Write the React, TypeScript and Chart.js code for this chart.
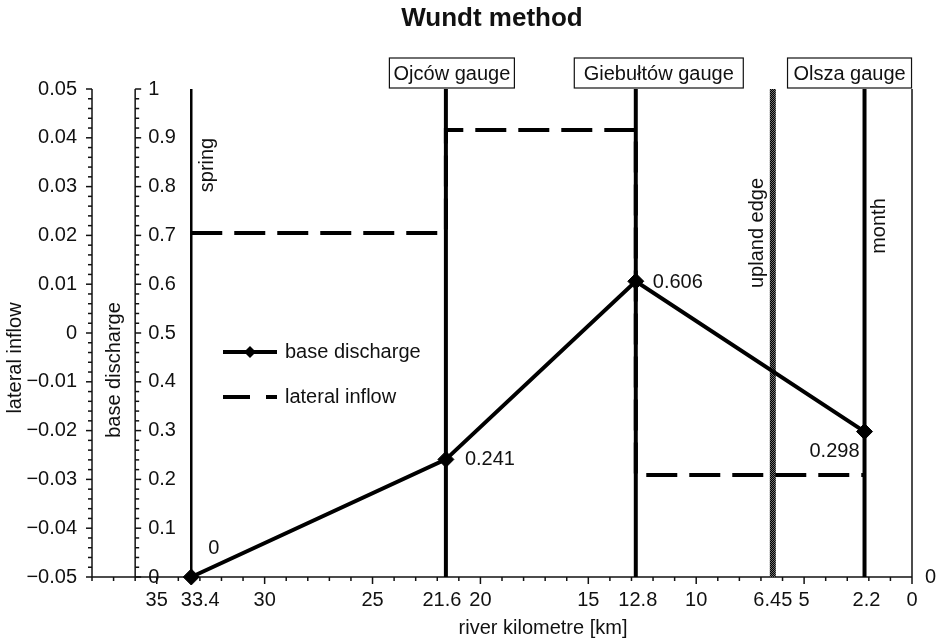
import React, { useEffect, useRef } from "react";
import { Chart, registerables } from "chart.js";

Chart.register(...registerables);

// ---------- data ----------
const chartTitle = "Wundt method";
const xAxisTitle = "river kilometre [km]";
const lateralAxisTitle = "lateral inflow";
const baseAxisTitle = "base discharge";

const riverKm = [33.4, 21.6, 12.8, 2.2];
const baseDischarge = [0, 0.241, 0.606, 0.298];
const baseDischargeLabels = ["0", "0.241", "0.606", "0.298"];
const lateralInflow = [0.0205, 0.0416, -0.0291, -0.0291];

const markerLineKm = [33.4, 21.6, 12.8, 6.45, 2.2];
const gaugeKm = [21.6, 12.8, 2.2];
const gaugeNames = ["Ojców gauge", "Giebułtów gauge", "Olsza gauge"];
const siteKm = [33.4, 6.45, 2.2];
const siteNames = ["spring", "upland edge", "month"];

const xTickValues = [35, 33.4, 30, 25, 21.6, 20, 15, 12.8, 10, 6.45, 5, 2.2, 0];
const xTickLabels = ["35", "33.4", "30", "25", "21.6", "20", "15", "12.8", "10", "6.45", "5", "2.2", "0"];
const lateralTickValues = [0.05, 0.04, 0.03, 0.02, 0.01, 0, -0.01, -0.02, -0.03, -0.04, -0.05];
const lateralTickLabels = ["0.05", "0.04", "0.03", "0.02", "0.01", "0", "\u22120.01", "\u22120.02", "\u22120.03", "\u22120.04", "\u22120.05"];
const baseTickValues = [1, 0.9, 0.8, 0.7, 0.6, 0.5, 0.4, 0.3, 0.2, 0.1, 0];
const baseTickLabels = ["1", "0.9", "0.8", "0.7", "0.6", "0.5", "0.4", "0.3", "0.2", "0.1", "0"];
const rightAxisLabel = "0";

// ---------- scale ranges ----------
const X_MIN = 0;
const X_MAX = 38;
const BASE_AXIS_KM = 36;
const LAT_MIN = -0.05;
const LAT_MAX = 0.05;
const BASE_MIN = 0;
const BASE_MAX = 1;

// ---------- styles ----------
const FONT_FAMILY = '"Liberation Sans", Arial, Helvetica, sans-serif';
const FS = 20;
const markerLineWidths = [2.5, 4, 4, 6, 4];
const xTickLabelDx = [0, 9, 0, 0, -4, 0, 0, 2, 0, 0, 0, 2, 0];
const gaugeBoxStyle = [
  { dx: 6, w: 125 },
  { dx: 23, w: 169 },
  { dx: -15, w: 124 },
];
const siteLabelStyle = [
  { dx: 16, y: 165 },
  { dx: -15, y: 233 },
  { dx: 15, y: 226 },
];
const dataLabelStyle = [
  { dx: 17, dy: -29, align: "left" },
  { dx: 19, dy: 0, align: "left" },
  { dx: 17, dy: 1, align: "left" },
  { dx: -5, dy: 20, align: "right" },
];

function setFont(ctx: CanvasRenderingContext2D, size: number, bold = false) {
  ctx.font = `${bold ? "bold " : ""}${size}px ${FONT_FAMILY}`;
}
function seg(ctx: CanvasRenderingContext2D, x1: number, y1: number, x2: number, y2: number) {
  ctx.beginPath();
  ctx.moveTo(x1, y1);
  ctx.lineTo(x2, y2);
  ctx.stroke();
}
function vtext(ctx: CanvasRenderingContext2D, text: string, x: number, y: number) {
  ctx.save();
  ctx.translate(x, y);
  ctx.rotate(-Math.PI / 2);
  ctx.textAlign = "center";
  ctx.textBaseline = "middle";
  ctx.fillText(text, 0, 0);
  ctx.restore();
}

const decorPlugin = {
  id: "decor",
  beforeDatasetsDraw(chart: any) {
    const { ctx, chartArea: a } = chart;
    const sx = chart.scales.x;
    const yL = chart.scales.yL;
    const yB = chart.scales.yB;
    ctx.save();
    ctx.strokeStyle = "#111";
    ctx.lineWidth = 1.5;
    ctx.setLineDash([]);
    // x axis
    seg(ctx, a.left, a.bottom, a.right, a.bottom);
    for (let k = X_MIN; k <= X_MAX; k += 1) {
      const px = sx.getPixelForValue(k);
      seg(ctx, px, a.bottom, px, a.bottom + (k % 5 === 0 ? 7 : 4));
    }
    // right border
    seg(ctx, a.right, a.top, a.right, a.bottom);
    // lateral inflow axis
    const lx = sx.getPixelForValue(X_MAX);
    seg(ctx, lx, a.top, lx, a.bottom);
    for (let i = 0; i <= 50; i++) {
      const v = LAT_MIN + (i * (LAT_MAX - LAT_MIN)) / 50;
      const py = yL.getPixelForValue(v);
      seg(ctx, lx, py, lx - (i % 5 === 0 ? 6 : 4), py);
    }
    // base discharge axis
    const bx = sx.getPixelForValue(BASE_AXIS_KM);
    seg(ctx, bx, a.top, bx, a.bottom);
    for (let i = 0; i <= 50; i++) {
      const v = BASE_MIN + (i * (BASE_MAX - BASE_MIN)) / 50;
      const py = yB.getPixelForValue(v);
      seg(ctx, bx, py, bx + (i % 5 === 0 ? 6 : 4), py);
    }
    ctx.restore();
  },
  afterDraw(chart: any) {
    const { ctx, chartArea: a } = chart;
    const sx = chart.scales.x;
    const yL = chart.scales.yL;
    const yB = chart.scales.yB;
    ctx.save();
    ctx.fillStyle = "#111";
    ctx.strokeStyle = "#111";
    ctx.setLineDash([]);

    // title
    setFont(ctx, 26, true);
    ctx.textAlign = "center";
    ctx.textBaseline = "middle";
    ctx.fillText(chartTitle, (a.left + a.right) / 2 - 10, 19);

    setFont(ctx, FS);
    // x tick labels
    ctx.textAlign = "center";
    ctx.textBaseline = "middle";
    xTickValues.forEach((v, i) => {
      ctx.fillText(xTickLabels[i], sx.getPixelForValue(v) + xTickLabelDx[i], a.bottom + 23);
    });
    // x title
    ctx.fillText(xAxisTitle, (a.left + a.right) / 2 + 41, a.bottom + 51);

    // lateral tick labels
    const lx = sx.getPixelForValue(X_MAX);
    ctx.textAlign = "right";
    lateralTickValues.forEach((v, i) => {
      ctx.fillText(lateralTickLabels[i], lx - 15, yL.getPixelForValue(v));
    });
    // base tick labels
    const bx = sx.getPixelForValue(BASE_AXIS_KM);
    ctx.textAlign = "left";
    baseTickValues.forEach((v, i) => {
      ctx.fillText(baseTickLabels[i], bx + 13, yB.getPixelForValue(v));
    });
    // right axis label
    ctx.fillText(rightAxisLabel, a.right + 13, yB.getPixelForValue(BASE_MIN));

    // axis titles
    vtext(ctx, lateralAxisTitle, lx - 77, (a.top + a.bottom) / 2 + 25);
    vtext(ctx, baseAxisTitle, bx - 21, (a.top + a.bottom) / 2 + 37);

    // gauge boxes
    gaugeKm.forEach((km, i) => {
      const cx = sx.getPixelForValue(km) + gaugeBoxStyle[i].dx;
      const w = gaugeBoxStyle[i].w;
      const top = a.top - 31;
      const h = 30;
      ctx.fillStyle = "#fff";
      ctx.fillRect(cx - w / 2, top, w, h);
      ctx.lineWidth = 1.2;
      ctx.strokeRect(cx - w / 2, top, w, h);
      ctx.fillStyle = "#111";
      ctx.textAlign = "center";
      ctx.textBaseline = "middle";
      ctx.fillText(gaugeNames[i], cx, top + h / 2 + 1);
    });

    // site labels (vertical)
    siteKm.forEach((km, i) => {
      vtext(ctx, siteNames[i], sx.getPixelForValue(km) + siteLabelStyle[i].dx, siteLabelStyle[i].y);
    });

    // data labels
    const meta = chart.getDatasetMeta(0);
    meta.data.forEach((pt: any, i: number) => {
      const st = dataLabelStyle[i];
      ctx.textAlign = st.align;
      ctx.textBaseline = "middle";
      ctx.fillText(baseDischargeLabels[i], pt.x + st.dx, pt.y + st.dy);
    });

    // legend
    const lgX0 = 223;
    const lgX1 = 277;
    const lgY = [352, 397];
    ctx.lineWidth = 4;
    ctx.strokeStyle = "#000";
    seg(ctx, lgX0, lgY[0], lgX1, lgY[0]);
    ctx.fillStyle = "#000";
    const mx = (lgX0 + lgX1) / 2;
    ctx.beginPath();
    ctx.moveTo(mx - 6, lgY[0]);
    ctx.lineTo(mx, lgY[0] - 6);
    ctx.lineTo(mx + 6, lgY[0]);
    ctx.lineTo(mx, lgY[0] + 6);
    ctx.closePath();
    ctx.fill();
    ctx.setLineDash([27, 16]);
    seg(ctx, lgX0, lgY[1], lgX1, lgY[1]);
    ctx.setLineDash([]);
    ctx.fillStyle = "#111";
    ctx.textAlign = "left";
    ctx.textBaseline = "middle";
    ctx.fillText("base discharge", 285, lgY[0]);
    ctx.fillText("lateral inflow", 285, lgY[1]);

    ctx.restore();
  },
};

export default function App() {
  const ref = useRef<HTMLCanvasElement>(null);
  useEffect(() => {
    const canvas = ref.current;
    if (!canvas) return;
    const ctx = canvas.getContext("2d")!;
    const pc = document.createElement("canvas");
    pc.width = 2;
    pc.height = 2;
    const pctx = pc.getContext("2d")!;
    pctx.fillStyle = "#000";
    pctx.fillRect(0, 0, 2, 2);
    pctx.fillStyle = "#6e6e6e";
    pctx.fillRect(0, 0, 1, 1);
    pctx.fillRect(1, 1, 1, 1);
    const pattern = ctx.createPattern(pc, "repeat");

    const verticals = markerLineKm.map((km, i) => ({
      label: "_marker" + i,
      data: [
        { x: km, y: BASE_MIN },
        { x: km, y: BASE_MAX },
      ],
      yAxisID: "yB",
      borderColor: i === 3 ? pattern : "#000",
      borderWidth: markerLineWidths[i],
      pointRadius: 0,
      clip: false as any,
      order: 3,
    }));

    const chart = new Chart(canvas, {
      type: "line",
      data: {
        datasets: [
          {
            label: "base discharge",
            data: riverKm.map((k, i) => ({ x: k, y: baseDischarge[i] })),
            yAxisID: "yB",
            borderColor: "#000",
            backgroundColor: "#000",
            borderWidth: 4,
            pointStyle: "rectRot",
            pointRadius: 8,
            pointBorderWidth: 1,
            pointBackgroundColor: "#000",
            pointBorderColor: "#000",
            clip: false as any,
            order: 1,
          },
          {
            label: "lateral inflow",
            data: riverKm.map((k, i) => ({ x: k, y: lateralInflow[i] })),
            yAxisID: "yL",
            borderColor: "#000",
            borderWidth: 4,
            borderDash: [31, 12],
            stepped: "before",
            pointRadius: 0,
            clip: false as any,
            order: 2,
          },
          ...(verticals as any),
        ],
      },
      options: {
        responsive: false,
        animation: false,
        events: [],
        layout: { padding: { left: 92, top: 89, right: 27, bottom: 66 }, autoPadding: false } as any,
        plugins: {
          legend: { display: false },
          title: { display: false },
          tooltip: { enabled: false },
        },
        scales: {
          x: { type: "linear", reverse: true, min: X_MIN, max: X_MAX, display: false },
          yL: { type: "linear", min: LAT_MIN, max: LAT_MAX, display: false },
          yB: { type: "linear", min: BASE_MIN, max: BASE_MAX, display: false },
        },
      },
      plugins: [decorPlugin as any],
    });
    return () => chart.destroy();
  }, []);

  return (
    <div style={{ position: "absolute", left: 0, top: 0, width: 939, height: 643, background: "#fff" }}>
      <canvas ref={ref} width={939} height={643} style={{ display: "block" }} />
    </div>
  );
}
